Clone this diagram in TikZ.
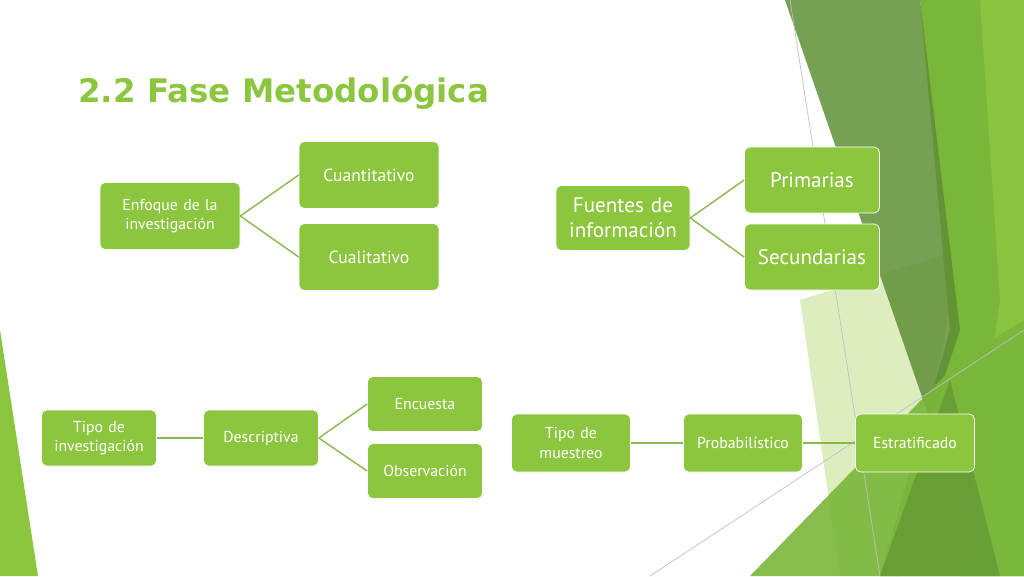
\documentclass[tikz,border=0pt]{standalone}
\usepackage{fontspec}
\setmainfont{PT Sans}
\newfontfamily\titlefont{DejaVu Sans}
\usetikzlibrary{positioning}
\definecolor{boxgreen}{HTML}{8CC63F}
\definecolor{darkleaf}{HTML}{5E8F35}
\definecolor{midleaf}{HTML}{7AB63A}
\definecolor{paleleaf}{HTML}{D6E8B0}
\definecolor{titlegreen}{HTML}{8CC63F}
\tikzset{
	>=stealth
}
\begin{document}
\begin{tikzpicture}[x=0.02cm,y=-0.02cm,
		item/.style 2 args={draw=white, thin, fill=boxgreen, rounded corners=3pt, text=white, align=center, inner sep=2pt,
			minimum width=#1*0.02cm, text width=#1*0.02cm-10pt, minimum height=#2*0.02cm},
		link/.style={draw=boxgreen!80!gray, thick}]
	\useasboundingbox (0,0) rectangle (1024,576);
	% right side leaves
	\fill[paleleaf, opacity=0.8] (800,300) -- (960,250) -- (900,576) -- (840,576) -- cycle;
	\fill[midleaf] (920,0) -- (1024,0) -- (1024,576) -- (880,576) -- (950,330) -- cycle;
	\fill[darkleaf, opacity=0.85] (785,0) -- (920,0) -- (960,330) -- (930,420) -- cycle;
	\fill[boxgreen, opacity=0.9] (980,0) -- (1024,0) -- (1024,576) -- (960,576) -- (1000,300) -- cycle;
	\fill[midleaf, opacity=0.9] (750,576) -- (960,360) -- (1024,320) -- (1024,576) -- cycle;
	\fill[darkleaf, opacity=0.6] (880,576) -- (950,380) -- (1000,576) -- cycle;
	\draw[gray!50] (790,0) -- (880,576);
	\draw[gray!50] (650,576) -- (1024,330);
	% left strip
	\fill[boxgreen] (0,330) -- (38,576) -- (0,576) -- cycle;
	% title
	\node[text=titlegreen, draw=none, anchor=west, inner sep=0pt] (title) at (78,93)
		{\titlefont\bfseries\fontsize{18.5}{22}\selectfont 2.2 Fase Metodológica};
	% top left
	\node[item={140}{67}, font=\small] (enfoque) at (170,216) {Enfoque de la investigación};
	\node[item={140}{67}] (cuanti) at (369,175) {Cuantitativo};
	\node[item={140}{67}] (cuali) at (369,257) {Cualitativo};
	% top right
	\node[item={134}{65}, font=\large] (fuentes) at (623,218) {Fuentes de información};
	\node[item={135}{66}, font=\large] (prim) at (812,180) {Primarias};
	\node[item={135}{66}, font=\large] (secu) at (812,257) {Secundarias};
	% bottom left
	\node[item={115}{56}, font=\small] (tipoinv) at (99,438) {Tipo de investigación};
	\node[item={115}{56}, font=\small] (descr) at (261,438) {Descriptiva};
	\node[item={115}{55}, font=\small] (encu) at (425,404) {Encuesta};
	\node[item={115}{55}, font=\small] (obse) at (425,471) {Observación};
	% bottom right
	\node[item={119}{58}, font=\small] (tipomue) at (571,443) {Tipo de muestreo};
	\node[item={119}{58}, font=\small] (proba) at (743,443) {Probabilístico};
	\node[item={119}{58}, font=\small] (estra) at (915,443) {Estratificado};
	% connectors
	\draw[link] (enfoque.east) -- (cuanti.west);
	\draw[link] (enfoque.east) -- (cuali.west);
	\draw[link] (fuentes.east) -- (prim.west);
	\draw[link] (fuentes.east) -- (secu.west);
	\draw[link] (tipoinv) -- (descr);
	\draw[link] (descr.east) -- (encu.west);
	\draw[link] (descr.east) -- (obse.west);
	\draw[link] (tipomue) -- (proba);
	\draw[link] (proba) -- (estra);
\end{tikzpicture}
\end{document}
